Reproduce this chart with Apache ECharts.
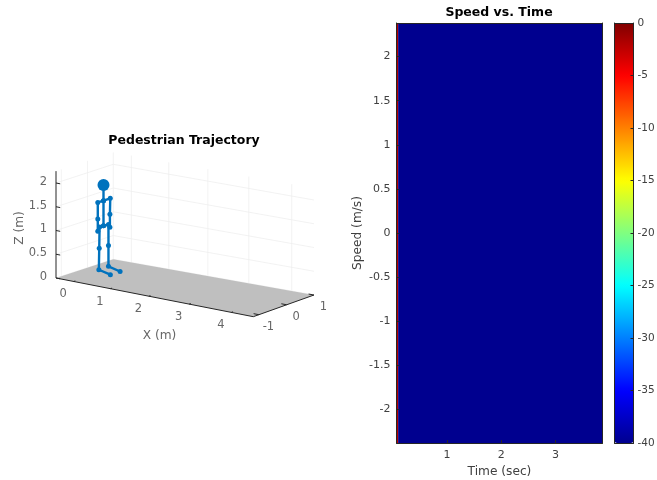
<!DOCTYPE html>
<html><head><meta charset="utf-8">
<style>html,body{margin:0;padding:0;background:#fff}#c{width:657px;height:480px}</style>
<script src="https://cdn.jsdelivr.net/npm/echarts@6/dist/echarts.min.js"></script>
</head><body><div id="c"></div>
<script>
// ---- data: spectrogram ----
const timeEdges = [0.065, 0.095, 3.87];
const speedEdges = [-2.38, 2.38];
const powerDb = [-2, -40];
const speedTicks = [-2, -1.5, -1, -0.5, 0, 0.5, 1, 1.5, 2];
const timeTicks = [1, 2, 3];
const colorTicksStep = 5;
const jetColors = ['#00008f','#0000ff','#0080ff','#00ffff','#80ff80','#ffff00','#ff8000','#ff0000','#800000'];
// ---- data: 3D pedestrian (x,y,z in metres) ----
const head = [[-0.165, 0.155, 1.76]];
const neck = [-0.165, 0.155, 1.43];
const pelvis = [-0.165, 0.155, 0.90];
const shoulderR = [-0.175, -0.05, 1.43], elbowR = [-0.175, -0.05, 1.08], wristR = [-0.175, -0.05, 0.82];
const shoulderL = [-0.125, 0.36, 1.45], elbowL = [-0.135, 0.36, 1.11], wristL = [-0.135, 0.36, 0.84];
const hipR = [-0.125, -0.05, 0.92], kneeR = [-0.135, -0.05, 0.47], ankleR = [-0.16, -0.03, 0.01], toeR = [0.28, -0.20, 0];
const hipL = [-0.175, 0.36, 0.89], kneeL = [-0.175, 0.36, 0.45], ankleL = [-0.175, 0.36, 0.01], toeL = [0.28, 0.17, 0];
const skeletonChains = [
  [head[0], neck, pelvis],
  [wristR, elbowR, shoulderR, neck, shoulderL, elbowL, wristL],
  [toeR, ankleR, kneeR, hipR, pelvis, hipL, kneeL, ankleL, toeL]
];
const xTicks3d = [0, 1, 2, 3, 4];
const yTicks3d = [-1, 0, 1];
const zTicks3d = [0, 0.5, 1, 1.5, 2];
const xRange = [-0.5, 4.5], yRange = [-1.2, 1], zRange = [0, 2.25];

// ---- view of the 3D box on the page ----
const view = { p00:[56,278], p10:[253.3,316.7], p11:[314,295], p01:[113.3,259.3], zScale:47.5 };
const H = (() => {
  const {p00:a,p10:b,p11:c,p01:d} = view;
  const sx=a[0]-b[0]+c[0]-d[0], sy=a[1]-b[1]+c[1]-d[1];
  const d1x=b[0]-c[0], d1y=b[1]-c[1], d2x=d[0]-c[0], d2y=d[1]-c[1];
  const det=d1x*d2y-d2x*d1y;
  const g=(sx*d2y-d2x*sy)/det, h=(d1x*sy-sx*d1y)/det;
  return {g,h,a:b[0]-a[0]+g*b[0],b:d[0]-a[0]+h*d[0],c:a[0],d:b[1]-a[1]+g*b[1],e:d[1]-a[1]+h*d[1],f:a[1]};
})();
function proj(p){
  const u=(p[0]-xRange[0])/(xRange[1]-xRange[0]), v=(p[1]-yRange[0])/(yRange[1]-yRange[0]);
  const w=1+H.g*u+H.h*v;
  return [(H.a*u+H.b*v+H.c)/w, (H.d*u+H.e*v+H.f)/w - view.zScale*p[2]];
}
function segs(list){ const out=[]; list.forEach(s=>{ s.forEach(p=>out.push(proj(p))); out.push([null,null]); }); return out; }

const [x0,x1]=xRange,[y0,y1]=yRange,[z0,z1]=zRange;
const gridSegs=[];
zTicks3d.forEach(z=>{ gridSegs.push([[x0,y0,z],[x0,y1,z],[x1,y1,z]]); });
xTicks3d.forEach(x=>{ gridSegs.push([[x,y1,z0],[x,y1,z1]]); });
yTicks3d.forEach(y=>{ gridSegs.push([[x0,y,z0],[x0,y,z1]]); });
const axisSegs=[ [[x0,y0,z1],[x0,y0,z0],[x1,y0,z0],[x1,y1,z0]] ];
xTicks3d.forEach(x=>axisSegs.push([[x,y0,0],[x,y0+0.06,0]]));
yTicks3d.forEach(y=>axisSegs.push([[x1,y,0],[x1-0.12,y,0]]));
zTicks3d.forEach(z=>axisSegs.push([[x0,y0,z],[x0+0.12,y0,z]]));

const tickText=(pts,dx,dy,align)=>({type:'scatter',xAxisIndex:0,yAxisIndex:0,symbolSize:0,silent:true,z:6,
  data:pts.map(([p,t])=>({value:proj(p),label:{formatter:String(t)}})),
  label:{show:true,position:'inside',offset:[dx,dy],align:align||'center',verticalAlign:'middle',color:'#404040',fontSize:11.5,fontFamily:'DejaVu Sans'}});
const lineS=(data,color,width,z)=>({type:'line',xAxisIndex:0,yAxisIndex:0,data,symbol:'none',silent:true,connectNulls:false,z,lineStyle:{color,width}});

const cells=[];
for(let i=0;i<powerDb.length;i++) cells.push([timeEdges[i],timeEdges[i+1],speedEdges[0],speedEdges[1],powerDb[i]]);

const fontFamily='DejaVu Sans', ink='#262626', txt='#404040';
const names3d=[
 {value:[159.5,336],label:{formatter:'X (m)'}},
 {value:[19.5,228],label:{formatter:'Z (m)',rotate:90}}
];
const tMin=timeEdges[0], tMax=timeEdges[timeEdges.length-1];
const option={
 animation:false,
 textStyle:{fontFamily},
 title:[
  {text:'Pedestrian Trajectory',left:184,top:134,textAlign:'center',padding:0,textStyle:{fontFamily,fontSize:12.5,fontWeight:'bold',color:'#000'}},
  {text:'Speed vs. Time',left:499,top:6,textAlign:'center',padding:0,textStyle:{fontFamily,fontSize:12.5,fontWeight:'bold',color:'#000'}}
 ],
 grid:[
  {left:0,top:0,width:657,height:480,outerBoundsMode:'none'},
  {left:396.5,top:23,width:206,height:420,outerBoundsMode:'none'},
  {left:614.5,top:23,width:19,height:420,outerBoundsMode:'none'}
 ],
 xAxis:[
  {gridIndex:0,type:'value',min:0,max:657,show:false},
  {gridIndex:1,type:'value',min:tMin,max:tMax,position:'bottom',z:5,
   splitLine:{show:false},axisLine:{onZero:false,lineStyle:{color:ink}},
   axisTick:{inside:true,length:3,customValues:timeTicks,lineStyle:{color:ink}},
   axisLabel:{customValues:timeTicks,color:txt,fontSize:11,margin:6.5},
   name:'Time (sec)',nameLocation:'middle',nameGap:22.5,nameTextStyle:{color:txt,fontSize:12.2}},
  {gridIndex:1,type:'value',min:tMin,max:tMax,position:'top',z:5,
   splitLine:{show:false},axisLine:{onZero:false,lineStyle:{color:ink}},axisTick:{show:false},axisLabel:{show:false}},
  {gridIndex:2,type:'value',min:0,max:1,position:'bottom',z:10,splitLine:{show:false},axisLine:{onZero:false,lineStyle:{color:ink}},axisTick:{show:false},axisLabel:{show:false}},
  {gridIndex:2,type:'value',min:0,max:1,position:'top',z:10,splitLine:{show:false},axisLine:{onZero:false,lineStyle:{color:ink}},axisTick:{show:false},axisLabel:{show:false}}
 ],
 yAxis:[
  {gridIndex:0,type:'value',min:0,max:480,inverse:true,show:false},
  {gridIndex:1,type:'value',min:speedEdges[0],max:speedEdges[1],position:'left',z:5,
   splitLine:{show:false},axisLine:{onZero:false,lineStyle:{color:ink}},
   axisTick:{inside:true,length:3,customValues:speedTicks,lineStyle:{color:ink}},
   axisLabel:{customValues:speedTicks,color:txt,fontSize:11,margin:6},
   name:'Speed (m/s)',nameLocation:'middle',nameGap:33,nameTextStyle:{color:txt,fontSize:12.2}},
  {gridIndex:1,type:'value',min:speedEdges[0],max:speedEdges[1],position:'right',z:5,
   splitLine:{show:false},axisLine:{onZero:false,lineStyle:{color:ink}},axisTick:{show:false},axisLabel:{show:false}},
  {gridIndex:2,type:'value',min:-40,max:0,interval:colorTicksStep,position:'right',z:10,
   splitLine:{show:false},axisLine:{onZero:false,lineStyle:{color:ink}},
   axisTick:{inside:true,length:3,lineStyle:{color:ink}},
   axisLabel:{color:txt,fontSize:10.5,margin:4,showMinLabel:true,showMaxLabel:true}},
  {gridIndex:2,type:'value',min:-40,max:0,position:'left',z:10,
   splitLine:{show:false},axisLine:{onZero:false,lineStyle:{color:ink}},axisTick:{show:false},axisLabel:{show:false}}
 ],
 visualMap:{type:'continuous',min:-40,max:0,dimension:4,seriesIndex:0,calculable:false,left:614.5,top:23,itemWidth:19,itemHeight:420,padding:0,text:null,inRange:{color:jetColors}},
 series:[
  {type:'custom',xAxisIndex:1,yAxisIndex:1,data:cells,silent:true,encode:{x:[0,1],y:[2,3]},
   renderItem:(p,api)=>{
     const a=api.coord([api.value(0),api.value(3)]), b=api.coord([api.value(1),api.value(2)]);
     return {type:'rect',shape:{x:a[0],y:a[1],width:b[0]-a[0],height:b[1]-a[1]},style:{fill:api.visual('color')}};
   }},
  lineS(segs(gridSegs),'#ececec',0.7,1),
  {type:'custom',xAxisIndex:0,yAxisIndex:0,silent:true,z:2,data:[[x0,y0],[x1,y0],[x1,y1],[x0,y1]],
   encode:{x:0,y:1},
   renderItem:(p,api)=>{
     if(p.dataIndex!==0) return null;
     const pts=[[x0,y0,0],[x1,y0,0],[x1,y1,0],[x0,y1,0]].map(q=>api.coord(proj(q)));
     return {type:'polygon',shape:{points:pts},style:{fill:'#bfbfbf'}};
   }},
  lineS(segs(axisSegs),ink,1,3),
  ...skeletonChains.map(ch=>({type:'line',xAxisIndex:0,yAxisIndex:0,silent:true,z:5,data:ch.map(proj),
     symbol:'circle',symbolSize:5,showAllSymbol:true,lineStyle:{color:'#0072bd',width:2.4},itemStyle:{color:'#0072bd'}})),
  {type:'scatter',xAxisIndex:0,yAxisIndex:0,silent:true,z:6,data:head.map(proj),symbolSize:12,itemStyle:{color:'#0072bd',opacity:1}},
  tickText(xTicks3d.map(t=>[[t,y0,0],t]),-10.5,13),
  tickText(yTicks3d.map(t=>[[x1,t,0],t]),9.5,12),
  tickText(zTicks3d.map(t=>[[x0,y0,t],t]),-9,-1,'right'),
  {type:'scatter',xAxisIndex:0,yAxisIndex:0,symbolSize:0,silent:true,z:6,data:names3d,
   label:{show:true,position:'inside',align:'center',verticalAlign:'middle',color:txt,fontSize:12.2,fontFamily}}
 ]
};
echarts.init(document.getElementById('c'),null,{renderer:'canvas'}).setOption(option);
</script></body></html>
